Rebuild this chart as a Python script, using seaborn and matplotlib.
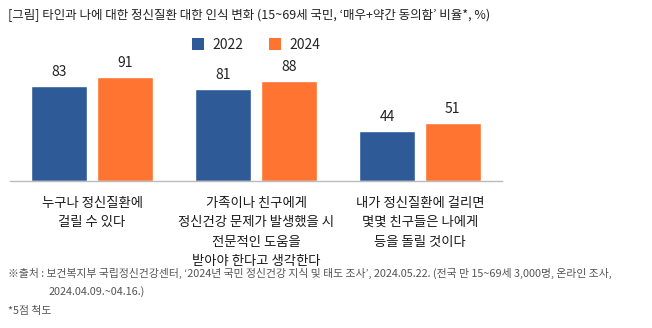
import matplotlib
matplotlib.use("Agg")
import matplotlib.pyplot as plt
import seaborn as sns
import pandas as pd
from matplotlib.patches import Patch

categories = ["누구나 정신질환에\n걸릴 수 있다",
              "가족이나 친구에게\n정신건강 문제가 발생했을 시\n전문적인 도움을\n받아야 한다고 생각한다",
              "내가 정신질환에 걸리면\n몇몇 친구들은 나에게\n등을 돌릴 것이다"]
years = ["2022", "2024"]
values_2022 = [83, 81, 44]
values_2024 = [91, 88, 51]
colors = ["#2E5B97", "#FF7430"]

title = "[그림] 타인과 나에 대한 정신질환 대한 인식 변화 (15~69세 국민, ‘매우+약간 동의함’ 비율*, %)"
source1 = "※출처 : 보건복지부 국립정신건강센터, ‘2024년 국민 정신건강 지식 및 태도 조사’, 2024.05.22. (전국 만 15~69세 3,000명, 온라인 조사,"
source2 = "2024.04.09.~04.16.)"
note = "*5점 척도"

df = pd.DataFrame({
    "category": categories * 2,
    "year": [years[0]] * 3 + [years[1]] * 3,
    "value": values_2022 + values_2024,
})

sns.set_theme(style="white")
plt.rcParams["font.family"] = ["Noto Sans CJK KR", "DejaVu Sans"]

fig = plt.figure(figsize=(6.52, 3.28), dpi=100)
ax = fig.add_axes([10 / 652, (328 - 181) / 328, 492 / 652, 114 / 328])

sns.barplot(data=df, x="category", y="value", hue="year", palette=colors,
            width=0.8, gap=0.15, ax=ax, legend=False, saturation=1, errorbar=None)

for cont in ax.containers:
    ax.bar_label(cont, fmt="%d", padding=5, fontsize=10, color="#222222", clip_on=False)

ax.set_ylim(0, 100)
ax.set_xlim(-0.5, 2.5)
ax.set_xlabel("")
ax.set_ylabel("")
ax.yaxis.set_visible(False)
ax.tick_params(axis="x", length=0, pad=10.5)
ax.set_xticks(range(3))
ax.set_xticklabels(categories, fontsize=9.6, color="#1a1a1a", linespacing=1.5,
                   va="top", fontweight="medium")
for s in ["top", "right", "left"]:
    ax.spines[s].set_visible(False)
ax.spines["bottom"].set_color("#BBBBBB")
ax.spines["bottom"].set_linewidth(1)

handles = [Patch(facecolor=c, edgecolor="none") for c in colors]
fig.legend(handles, years, loc="center", bbox_to_anchor=(256 / 652, 1 - 45 / 328),
           ncol=2, frameon=False, fontsize=10, handlelength=0.9, handleheight=0.9,
           columnspacing=1.8, handletextpad=0.6)

fig.text(8 / 652, 1 - 15 / 328, title, fontsize=9, color="#222222", va="center", ha="left")
fig.text(8 / 652, 1 - 273 / 328, source1, fontsize=7.8, color="#555555", va="center", ha="left")
fig.text(49 / 652, 1 - 292 / 328, source2, fontsize=7.8, color="#555555", va="center", ha="left")
fig.text(8 / 652, 1 - 311 / 328, note, fontsize=7.8, color="#555555", va="center", ha="left")

fig.savefig("out.png", dpi=100)
